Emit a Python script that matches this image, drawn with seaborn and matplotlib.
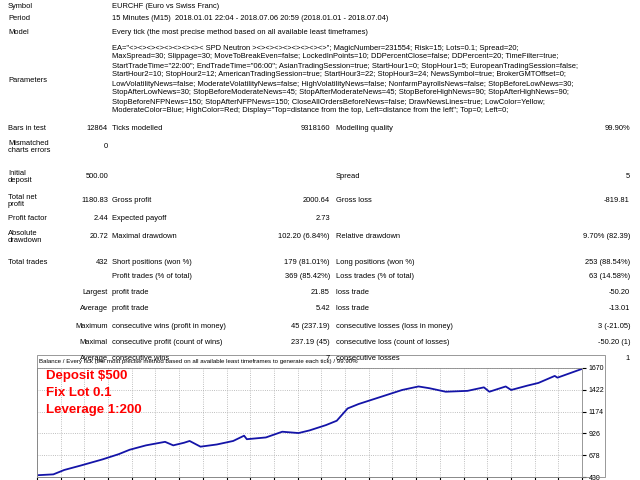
import matplotlib
matplotlib.use("Agg")
import matplotlib.pyplot as plt
import seaborn as sns
import numpy as np
import pandas as pd

plt.rcParams["font.family"] = "Liberation Sans"

trade_frac = [0, .03, .05, .08, .12, .15, .17, .2, .235, .25, .27, .28, .30, .33, .36, .38, .385, .42, .45, .48, .5, .53, .55, .57, .59, .61, .64, .67, .70, .72, .75, .79, .82, .83, .86, .87, .9, .92, .95, .955, 1.0]
balance = [450, 460, 510, 560, 630, 690, 740, 790, 830, 790, 820, 840, 775, 800, 840, 900, 860, 880, 945, 930, 960, 1020, 1070, 1210, 1260, 1300, 1360, 1420, 1460, 1440, 1400, 1410, 1450, 1400, 1460, 1420, 1470, 1500, 1580, 1560, 1660]
yticks = [430, 678, 926, 1174, 1422, 1670]

W, H = 640, 480
fig = plt.figure(figsize=(6.4, 4.8), dpi=100)
fig.patch.set_facecolor("white")
fs = 5.4

def T(x, y, s, ha="left", **kw):
    fig.text(x / W, 1 - y / H, s, ha=ha, va="center", fontsize=kw.pop("fs", fs), linespacing=1.1, **kw)

T(8, 6, "Symbol"); T(112, 6, "EURCHF (Euro vs Swiss Franc)")
T(8, 19, "Period"); T(112, 19, "15 Minutes (M15)  2018.01.01 22:04 - 2018.07.06 20:59 (2018.01.01 - 2018.07.04)")
T(8, 33, "Model"); T(112, 33, "Every tick (the most precise method based on all available least timeframes)")
T(8, 80, "Parameters")
params = [
 'EA="<><><><><><><><>< SPD Neutron ><><><><><><><><>"; MagicNumber=231554; Risk=15; Lots=0.1; Spread=20;',
 'MaxSpread=30; Slippage=30; MoveToBreakEven=false; LockedInPoints=10; DDPercentClose=false; DDPercent=20; TimeFilter=true;',
 'StartTradeTime="22:00"; EndTradeTime="06:00"; AsianTradingSession=true; StartHour1=0; StopHour1=5; EuropeanTradingSession=false;',
 'StartHour2=10; StopHour2=12; AmericanTradingSession=true; StartHour3=22; StopHour3=24; NewsSymbol=true; BrokerGMTOffset=0;',
 'LowVolatilityNews=false; ModerateVolatilityNews=false; HighVolatilityNews=false; NonfarmPayrollsNews=false; StopBeforeLowNews=30;',
 'StopAfterLowNews=30; StopBeforeModerateNews=45; StopAfterModerateNews=45; StopBeforeHighNews=90; StopAfterHighNews=90;',
 'StopBeforeNFPNews=150; StopAfterNFPNews=150; CloseAllOrdersBeforeNews=false; DrawNewsLines=true; LowColor=Yellow;',
 'ModerateColor=Blue; HighColor=Red; Display="Top=distance from the top, Left=distance from the left"; Top=0; Left=0;',
]
for i, p in enumerate(params):
    T(112, 48 + i * 9, p)

rows = [
 (128, "Bars in test", "12864", "Ticks modelled", "9318160", "Modelling quality", "99.90%"),
 (147, "Mismatched\ncharts errors", "0", "", "", "", ""),
 (177, "Initial\ndeposit", "500.00", "", "", "Spread", "5"),
 (201, "Total net\nprofit", "1180.83", "Gross profit", "2000.64", "Gross loss", "-819.81"),
 (219, "Profit factor", "2.44", "Expected payoff", "2.73", "", ""),
 (237, "Absolute\ndrawdown", "20.72", "Maximal drawdown", "102.20 (6.84%)", "Relative drawdown", "9.70% (82.39)"),
 (262, "Total trades", "432", "Short positions (won %)", "179 (81.01%)", "Long positions (won %)", "253 (88.54%)"),
]
for y, a, av, b, bv, c, cv in rows:
    T(8, y, a); T(108, y, av, ha="right"); T(112, y, b); T(330, y, bv, ha="right"); T(336, y, c); T(630, y, cv, ha="right")

rows2 = [
 (276, "", "Profit trades (% of total)", "369 (85.42%)", "Loss trades (% of total)", "63 (14.58%)"),
 (293, "Largest", "profit trade", "21.85", "loss trade", "-50.20"),
 (309, "Average", "profit trade", "5.42", "loss trade", "-13.01"),
 (326, "Maximum", "consecutive wins (profit in money)", "45 (237.19)", "consecutive losses (loss in money)", "3 (-21.05)"),
 (342, "Maximal", "consecutive profit (count of wins)", "237.19 (45)", "consecutive loss (count of losses)", "-50.20 (1)"),
 (358, "Average", "consecutive wins", "7", "consecutive losses", "1"),
]
for y, a, b, bv, c, cv in rows2:
    T(108, y, a, ha="right"); T(112, y, b); T(330, y, bv, ha="right"); T(336, y, c); T(630, y, cv, ha="right")

# chart
x0, x1, y0, y1 = 37, 582, 368, 477
ax = fig.add_axes([x0 / W, 1 - y1 / H, (x1 - x0) / W, (y1 - y0) / H])
df = pd.DataFrame({"t": trade_frac, "b": balance})
sns.lineplot(data=df, x="t", y="b", ax=ax, color="#1414a8", lw=1.3)
ax.set_xlim(0, 1); ax.set_ylim(430, 1670)
ax.set_yticks(yticks)
ax.set_xticks(np.linspace(0, 1, 24))
ax.set_xticklabels([])
ax.yaxis.tick_right()
ax.tick_params(axis="y", labelsize=5, length=3, pad=2)
ax.tick_params(axis="x", length=2)
ax.grid(True, color="#aaaaaa", ls=":", lw=0.6)
ax.set_xlabel(""); ax.set_ylabel("")
for s in ax.spines.values():
    s.set_color("#888888"); s.set_linewidth(0.6)
T(39, 362, "Balance / Every tick (the most precise method based on all available least timeframes to generate each tick) / 99.90%", fs=4.4)
T(46, 376, "Deposit $500", color="red", fs=9.5, fontweight="bold")
T(46, 393, "Fix Lot 0.1", color="red", fs=9.5, fontweight="bold")
T(46, 410, "Leverage 1:200", color="red", fs=9.5, fontweight="bold")
fig.add_artist(plt.Rectangle((x0 / W, 1 - y1 / H), (605 - x0) / W, (y1 - 355) / H, fill=False, ec="#888888", lw=0.6))

fig.savefig("out.png", dpi=100)
